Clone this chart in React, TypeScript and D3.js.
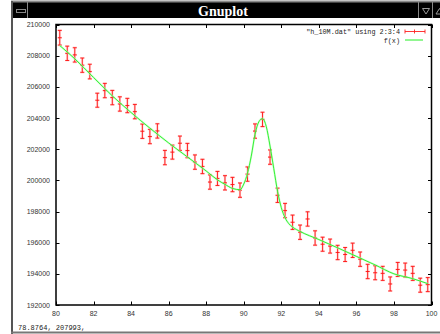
import { useEffect, useRef } from 'react';
import * as d3 from 'd3';

// data points (x, y, y error)
const xs = [
  80.2, 80.6, 81.0, 81.4, 81.8, 82.2, 82.6, 83.0, 83.4, 83.8,
  84.2, 84.6, 85.0, 85.4, 85.8, 86.2, 86.6, 87.0, 87.4, 87.8,
  88.2, 88.6, 89.0, 89.4, 89.8, 90.2, 90.6, 91.0, 91.4, 91.8,
  92.2, 92.6, 93.0, 93.4, 93.8, 94.2, 94.6, 95.0, 95.4, 95.8,
  96.2, 96.6, 97.0, 97.4, 97.8, 98.2, 98.6, 99.0, 99.4, 99.8,
];
const ys = [
  209150, 208150, 208050, 207390, 206980, 205140, 205760, 205310, 204900, 204800,
  204410, 203150, 202810, 203170, 201460, 201810, 202380, 201910, 201170, 200890,
  199890, 200120, 199840, 199730, 199370, 200400, 203160, 203910, 201490, 199040,
  198060, 197310, 196670, 197520, 196300, 195900, 195780, 195370, 195240, 195510,
  194940, 194150, 194070, 194030, 193350, 194280, 194240, 194030, 193270, 193310,
];
const errs = [
  470, 460, 460, 460, 470, 450, 460, 460, 460, 460,
  460, 460, 460, 460, 460, 450, 460, 460, 460, 460,
  460, 450, 460, 460, 460, 460, 460, 460, 460, 460,
  460, 460, 460, 460, 460, 450, 450, 460, 450, 460,
  460, 460, 450, 450, 450, 450, 450, 450, 450, 450,
];

// fitted function f(x)
const fitX = [
  80.2, 81, 82, 83, 84, 85, 86, 87, 88, 88.6, 89, 89.4, 89.8, 90, 90.2, 90.4,
  90.6, 90.8, 91, 91.2, 91.4, 91.6, 91.8, 92, 92.2, 92.4, 92.6, 93, 94, 95,
  96, 97, 98, 99, 99.8,
];
const fitY = [
  208650, 207800, 206600, 205420, 204350, 203350, 202400, 201500, 200600, 200030,
  199740, 199480, 199400, 199760, 200450, 201550, 202950, 203750, 203960, 203450,
  202200, 200750, 199300, 198250, 197600, 197220, 197000, 196720, 196200, 195670,
  195120, 194570, 194000, 193690, 193370,
];

const xTicks = [80, 82, 84, 86, 88, 90, 92, 94, 96, 98, 100];
const yTicks = [192000, 194000, 196000, 198000, 200000, 202000, 204000, 206000, 208000, 210000];

const W = 440;
const H = 334;

export default function App() {
  const ref = useRef<SVGSVGElement>(null);

  useEffect(() => {
    if (!ref.current) return;
    const svg = d3.select(ref.current);
    svg.selectAll('*').remove();

    // 1) WINDOW CHROME
    svg.append('rect').attr('x', 0).attr('y', 0).attr('width', W).attr('height', H).attr('fill', 'white');
    svg.append('rect').attr('x', 12).attr('y', 2).attr('width', W - 12).attr('height', 16).attr('fill', 'black');
    svg.append('line').attr('x1', 11).attr('x2', W).attr('y1', 1.5).attr('y2', 1.5)
      .attr('stroke', '#8a8a8a').attr('stroke-width', 2);
    svg.append('line').attr('x1', 12).attr('x2', 12).attr('y1', 1).attr('y2', H)
      .attr('stroke', '#555').attr('stroke-width', 2);
    svg.append('line').attr('x1', 11).attr('x2', W).attr('y1', 332.5).attr('y2', 332.5)
      .attr('stroke', '#777').attr('stroke-width', 2);
    // left button
    svg.append('line').attr('x1', 27.5).attr('x2', 27.5).attr('y1', 2).attr('y2', 18)
      .attr('stroke', '#888').attr('stroke-width', 1);
    svg.append('rect').attr('x', 16.5).attr('y', 9.5).attr('width', 9).attr('height', 3)
      .attr('fill', 'none').attr('stroke', '#888');
    // right buttons
    [418.5, 432.5].forEach(sx => {
      svg.append('line').attr('x1', sx).attr('x2', sx).attr('y1', 2).attr('y2', 18)
        .attr('stroke', '#888').attr('stroke-width', 1);
    });
    svg.append('path').attr('d', 'M422.5,8.5 L429.5,8.5 L426,14 Z')
      .attr('fill', 'none').attr('stroke', '#999');
    svg.append('path').attr('d', 'M436,14 L439.5,8.5 L443,14 Z')
      .attr('fill', 'none').attr('stroke', '#999');
    svg.append('text').attr('x', 223).attr('y', 15.5).attr('text-anchor', 'middle')
      .attr('font-family', 'Liberation Serif').attr('font-weight', 'bold').attr('font-size', '14px')
      .attr('fill', 'white').text('Gnuplot');

    // 2) SCALES
    const left = 56, right = 431.5, top = 24.5, bottom = 305;
    const x = d3.scaleLinear().domain([80, 100]).range([left, right]);
    const y = d3.scaleLinear().domain([192000, 210000]).range([bottom, top]);

    const lab = { family: 'Liberation Sans', size: '7px', fill: '#333' };

    // 3) TICKS AND LABELS
    const tk = svg.append('g').attr('stroke', 'black').attr('stroke-width', 1);
    xTicks.forEach(t => {
      const px = Math.round(x(t)) + 0.5;
      tk.append('line').attr('x1', px).attr('x2', px).attr('y1', bottom).attr('y2', bottom - 3.5);
      tk.append('line').attr('x1', px).attr('x2', px).attr('y1', top).attr('y2', top + 3.5);
    });
    yTicks.forEach(t => {
      const py = Math.round(y(t)) + 0.5;
      tk.append('line').attr('x1', left).attr('x2', left + 3.5).attr('y1', py).attr('y2', py);
      tk.append('line').attr('x1', right).attr('x2', right - 3.5).attr('y1', py).attr('y2', py);
    });
    svg.selectAll('text.xl').data(xTicks).enter().append('text')
      .attr('class', 'xl')
      .attr('x', d => x(d)).attr('y', 316)
      .attr('text-anchor', 'middle')
      .attr('font-family', lab.family).attr('font-size', lab.size).attr('fill', lab.fill)
      .text(d => String(d));
    svg.selectAll('text.yl').data(yTicks).enter().append('text')
      .attr('class', 'yl')
      .attr('x', 50).attr('y', d => y(d) + 2.5)
      .attr('text-anchor', 'end')
      .attr('font-family', lab.family).attr('font-size', lab.size).attr('fill', lab.fill)
      .text(d => String(d));

    // frame
    svg.append('rect').attr('x', left).attr('y', top)
      .attr('width', right - left).attr('height', bottom - top)
      .attr('fill', 'none').attr('stroke', 'black').attr('stroke-width', 1.5);

    // 4) ERROR BARS
    const eb = svg.append('g');
    const drawBar = (g: d3.Selection<SVGGElement, unknown, null, undefined>, stroke: string, w: number, op: number) => {
      xs.forEach((xv, i) => {
        const px = x(xv);
        const y0 = y(ys[i] - errs[i]);
        const y1 = y(ys[i] + errs[i]);
        const yc = y(ys[i]);
        const p = `M${px},${y0}L${px},${y1}M${px - 2},${y0}L${px + 2},${y0}M${px - 2},${y1}L${px + 2},${y1}M${px - 2},${yc}L${px + 2},${yc}`;
        g.append('path').attr('d', p).attr('fill', 'none')
          .attr('stroke', stroke).attr('stroke-width', w).attr('opacity', op);
      });
    };
    drawBar(eb.append('g'), '#ff9a9a', 2.2, 0.4);
    drawBar(eb.append('g'), '#ff1010', 0.9, 1);

    // 5) FIT CURVE
    const line = d3.line<number>()
      .x((d, i) => x(fitX[i]))
      .y(d => y(d))
      .curve(d3.curveMonotoneX);
    svg.append('path').datum(fitY).attr('d', line)
      .attr('fill', 'none').attr('stroke', '#b0ffb0').attr('stroke-width', 2).attr('opacity', 0.6);
    svg.append('path').datum(fitY).attr('d', line)
      .attr('fill', 'none').attr('stroke', '#22ee22').attr('stroke-width', 0.9);

    // 6) KEY
    const mono = 'Liberation Mono';
    svg.append('text').attr('x', 400).attr('y', 34).attr('text-anchor', 'end')
      .attr('font-family', mono).attr('font-size', '6.8px').attr('fill', '#222')
      .text('"h_10M.dat" using 2:3:4');
    svg.append('text').attr('x', 400).attr('y', 42.5).attr('text-anchor', 'end')
      .attr('font-family', mono).attr('font-size', '6.8px').attr('fill', '#222')
      .text('f(x)');
    svg.append('path').attr('d', 'M405,31.5L425,31.5M405,29.5L405,33.5M425,29.5L425,33.5M414.5,29.5L414.5,33.5')
      .attr('fill', 'none').attr('stroke', '#ff2020').attr('stroke-width', 0.9);
    svg.append('line').attr('x1', 405).attr('x2', 423).attr('y1', 40).attr('y2', 40)
      .attr('stroke', '#22ee22').attr('stroke-width', 1);

    // 7) STATUS LINE
    svg.append('text').attr('x', 18).attr('y', 330)
      .attr('font-family', mono).attr('font-size', '7px').attr('fill', '#222')
      .text('78.8764, 207993,');
  }, []);

  return (
    <div style={{ position: 'fixed', left: 0, top: 0 }}>
      <svg ref={ref} width={W} height={H} style={{ display: 'block' }} />
    </div>
  );
}
